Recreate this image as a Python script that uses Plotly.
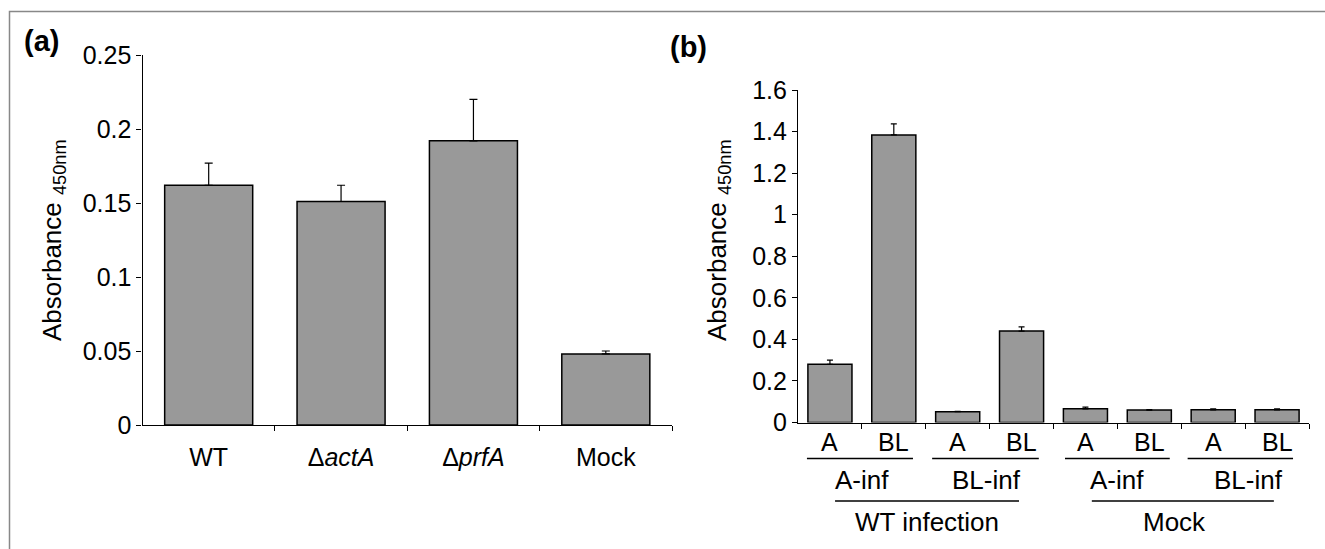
import plotly.graph_objects as go

W, H = 1325, 549

# Panel (a)
a_labels = ["WT", "Δ<i>actA</i>", "Δ<i>prfA</i>", "Mock"]
a_values = [0.162, 0.151, 0.192, 0.048]
a_errors = [0.015, 0.011, 0.028, 0.002]
a_yticks = [0, 0.05, 0.1, 0.15, 0.2, 0.25]
a_yticktext = ["0", "0.05", "0.1", "0.15", "0.2", "0.25"]

# Panel (b)
b_labels = ["A", "BL", "A", "BL", "A", "BL", "A", "BL"]
b_values = [0.280, 1.384, 0.052, 0.440, 0.066, 0.060, 0.061, 0.061]
b_errors = [0.020, 0.053, 0.002, 0.020, 0.008, 0.002, 0.005, 0.005]
b_yticks = [0, 0.2, 0.4, 0.6, 0.8, 1, 1.2, 1.4, 1.6]
b_yticktext = ["0", "0.2", "0.4", "0.6", "0.8", "1", "1.2", "1.4", "1.6"]
b_level2 = ["A-inf", "BL-inf", "A-inf", "BL-inf"]
b_level2_pos = [0.5, 2.45, 4.5, 6.55]
b_level2_lines = [(-0.36, 1.3), (1.6, 3.27), (3.68, 5.32), (5.6, 7.25)]
b_level3 = ["WT infection", "Mock"]
b_level3_pos = [1.52, 5.4]
b_level3_lines = [(0.08, 2.96), (4.1, 6.95)]

FONT = "Liberation Sans, Arial, Helvetica, sans-serif"
BAR = "#999999"
TICK = 25
LAB = 26

fig = go.Figure()
fig.add_trace(go.Bar(
    x=list(range(len(a_values))), y=a_values, width=0.665,
    marker=dict(color=BAR, line=dict(color="black", width=1.5)),
    error_y=dict(type="data", symmetric=False, array=a_errors,
                 arrayminus=[0] * len(a_errors), color="black",
                 thickness=1.2, width=4),
    xaxis="x", yaxis="y", showlegend=False, hoverinfo="skip"))
fig.add_trace(go.Bar(
    x=list(range(len(b_values))), y=b_values, width=0.69,
    marker=dict(color=BAR, line=dict(color="black", width=1.5)),
    error_y=dict(type="data", symmetric=False, array=b_errors,
                 arrayminus=[0] * len(b_errors), color="black",
                 thickness=1.2, width=3),
    xaxis="x2", yaxis="y2", showlegend=False, hoverinfo="skip"))


def px_x(p):
    return p / W


def px_y(p):
    return 1 - p / H


axis_common = dict(showgrid=False, zeroline=False, showline=True,
                   linecolor="black", linewidth=1.2, mirror=False,
                   automargin=False,
                   tickfont=dict(family=FONT, size=TICK, color="black"))

fig.update_layout(
    width=W, height=H, margin=dict(l=0, r=0, t=0, b=0, autoexpand=False),
    paper_bgcolor="white", plot_bgcolor="white",
    font=dict(family=FONT, color="black"),
    xaxis=dict(domain=[px_x(142.5), px_x(672)], range=[-0.5, 3.5],
               anchor="y", tickvals=list(range(4)), ticktext=a_labels,
               ticks="", ticklabelstandoff=10,
               minor=dict(tickvals=[0.5, 1.5, 2.5, 3.5], ticks="outside",
                          ticklen=5, tickcolor="black", tickwidth=1.2),
               **axis_common),
    yaxis=dict(domain=[px_y(425), px_y(55)], range=[0, 0.25], anchor="x",
               tickvals=a_yticks, ticktext=a_yticktext, ticks="outside",
               ticklen=5, tickcolor="black", tickwidth=1.2,
               **axis_common),
    xaxis2=dict(domain=[px_x(798), px_x(1309)], range=[-0.5, 7.5],
                anchor="y2", tickvals=list(range(8)), ticktext=b_labels,
                ticks="", showticklabels=False,
                minor=dict(tickvals=[i + 0.5 for i in range(8)], ticks="outside",
                           ticklen=5, tickcolor="black", tickwidth=1.2),
                **axis_common),
    yaxis2=dict(domain=[px_y(422.5), px_y(90)], range=[0, 1.6], anchor="x2",
                tickvals=b_yticks, ticktext=b_yticktext, ticks="outside",
                ticklen=5, tickcolor="black", tickwidth=1.2,
                **axis_common),
)

annotations = []


def ann(text, x, y, xref="paper", size=LAB, angle=0):
    return dict(text=text, x=x, y=y, xref=xref, yref="paper", showarrow=False,
                xanchor="center", yanchor="middle", textangle=angle,
                font=dict(family=FONT, size=size, color="black"))


# Panel letters
annotations.append(ann("<b>(a)</b>", px_x(41), px_y(41), size=29))
annotations.append(ann("<b>(b)</b>", px_x(688), px_y(47), size=29))
# Axis titles
for xc in (53, 718):
    annotations.append(ann("Absorbance <sub>450nm</sub>", px_x(xc), px_y(240), angle=-90))
# Panel (b) category labels (three levels)
for i, lab in enumerate(b_labels):
    annotations.append(ann(lab, i, px_y(442), xref="x2", size=TICK))
for lab, pos in zip(b_level2, b_level2_pos):
    annotations.append(ann(lab, pos, px_y(480), xref="x2"))
for lab, pos in zip(b_level3, b_level3_pos):
    annotations.append(ann(lab, pos, px_y(522), xref="x2"))
fig.update_layout(annotations=annotations)

shapes = []
for x0, x1 in b_level2_lines:
    shapes.append(dict(type="line", xref="x2", yref="paper", x0=x0, x1=x1,
                       y0=px_y(458.5), y1=px_y(458.5), line=dict(color="black", width=1.5)))
for x0, x1 in b_level3_lines:
    shapes.append(dict(type="line", xref="x2", yref="paper", x0=x0, x1=x1,
                       y0=px_y(501), y1=px_y(501), line=dict(color="black", width=1.5)))
# Figure frame (top & left visible)
shapes.append(dict(type="rect", xref="paper", yref="paper", x0=px_x(9.5), x1=1.05,
                   y0=-0.05, y1=px_y(11.5), line=dict(color="#888888", width=1.5),
                   fillcolor="rgba(0,0,0,0)", layer="below"))
fig.update_layout(shapes=shapes)

fig.write_html("out.html")
